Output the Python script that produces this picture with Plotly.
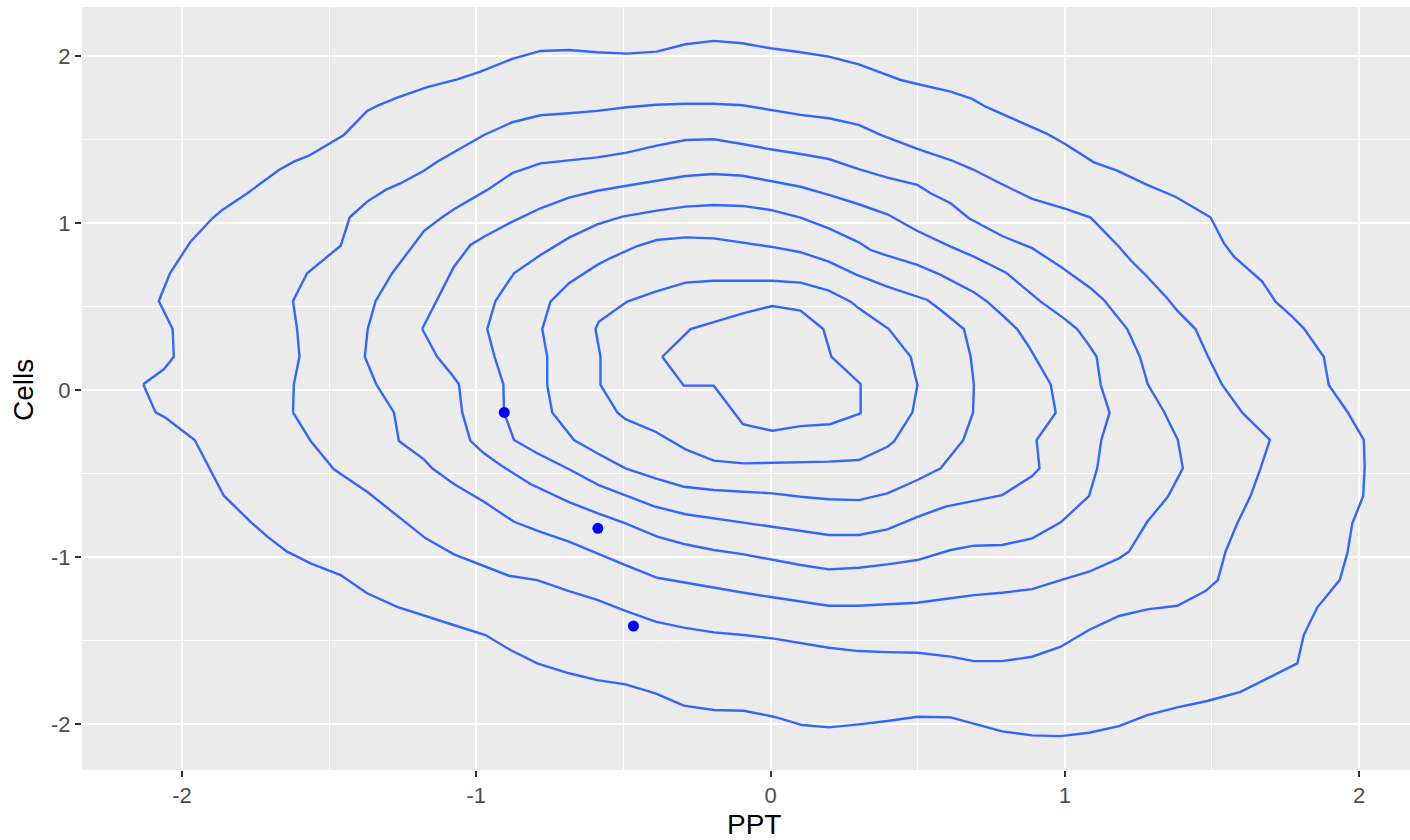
import plotly.graph_objects as go

# ---- data (PPT on x, Cells on y) ----
# Density contour levels, outermost (1) to innermost (8)
c1_ppt = [-2.132, -2.062, -2.028, -2.032, -2.079, -2.041, -1.971, -1.897, -1.863, -1.778, -1.671, -1.620,
          -1.569, -1.450, -1.371, -1.337, -1.269, -1.167, -1.065, -0.986, -0.878, -0.782, -0.685, -0.589,
          -0.489, -0.387, -0.289, -0.193, -0.096, 0.000, 0.102, 0.198, 0.300, 0.397, 0.442, 0.499, 0.612,
          0.685, 0.731, 0.838, 0.940, 0.997, 1.099, 1.178, 1.280, 1.376, 1.495, 1.541, 1.575, 1.671, 1.716,
          1.767, 1.812, 1.880, 1.897, 1.960, 2.016, 2.019, 2.014, 1.977, 1.960, 1.934, 1.858, 1.812, 1.790,
          1.597, 1.484, 1.382, 1.280, 1.184, 1.082, 0.986, 0.889, 0.787, 0.691, 0.612, 0.499, 0.397, 0.300,
          0.198, 0.108, 0.011, -0.091, -0.193, -0.295, -0.391, -0.493, -0.589, -0.685, -0.793, -0.884, -0.969,
          -1.088, -1.167, -1.269, -1.371, -1.461, -1.563, -1.643, -1.710, -1.767, -1.858, -1.957, -2.056, -2.090]
c1_cells = [0.034, 0.124, 0.199, 0.365, 0.533, 0.699, 0.888, 1.028, 1.078, 1.178, 1.317, 1.367,
            1.403, 1.527, 1.671, 1.701, 1.750, 1.813, 1.860, 1.906, 1.982, 2.030, 2.036, 2.022,
            2.014, 2.026, 2.070, 2.090, 2.076, 2.046, 2.022, 1.996, 1.950, 1.886, 1.856, 1.832, 1.786,
            1.743, 1.696, 1.613, 1.533, 1.477, 1.363, 1.313, 1.228, 1.157, 1.034, 0.878, 0.798, 0.649, 0.529,
            0.449, 0.369, 0.199, 0.030, -0.130, -0.299, -0.459, -0.635, -0.798, -0.978, -1.138, -1.301, -1.467, -1.637,
            -1.807, -1.862, -1.900, -1.946, -2.012, -2.052, -2.072, -2.068, -2.044, -1.996, -1.960, -1.956, -1.982, -2.002,
            -2.020, -2.006, -1.956, -1.920, -1.916, -1.890, -1.816, -1.762, -1.737, -1.696, -1.637, -1.557, -1.467,
            -1.401, -1.357, -1.298, -1.217, -1.108, -1.038, -0.968, -0.878, -0.789, -0.633, -0.299, -0.166, -0.134]

c2_ppt = [-1.623, -1.620, -1.601, -1.609, -1.623, -1.575, -1.461, -1.430, -1.371, -1.308, -1.257, -1.178,
          -1.133, -1.059, -0.974, -0.878, -0.782, -0.685, -0.589, -0.489, -0.387, -0.289, -0.193, -0.096,
          0.000, 0.102, 0.198, 0.300, 0.374, 0.397, 0.499, 0.612, 0.685, 0.787, 0.889, 1.003, 1.088, 1.184,
          1.223, 1.280, 1.348, 1.382, 1.444, 1.484, 1.535, 1.603, 1.648, 1.697, 1.665, 1.631, 1.586, 1.546,
          1.520, 1.478, 1.382, 1.280, 1.184, 1.082, 0.986, 0.889, 0.787, 0.691, 0.612, 0.499, 0.397, 0.300,
          0.198, 0.102, 0.006, -0.091, -0.193, -0.295, -0.391, -0.493, -0.589, -0.685, -0.793, -0.889, -0.986,
          -1.076, -1.172, -1.257, -1.371, -1.484, -1.563]
c2_cells = [-0.134, 0.034, 0.199, 0.365, 0.533, 0.699, 0.864, 1.034, 1.128, 1.198, 1.238, 1.313,
            1.367, 1.441, 1.527, 1.603, 1.645, 1.657, 1.671, 1.693, 1.708, 1.714, 1.714, 1.705,
            1.677, 1.647, 1.627, 1.587, 1.527, 1.511, 1.443, 1.377, 1.323, 1.232, 1.144, 1.084, 1.032, 0.858,
            0.778, 0.678, 0.549, 0.475, 0.365, 0.210, 0.030, -0.136, -0.214, -0.299, -0.469, -0.635, -0.798, -0.968,
            -1.138, -1.204, -1.292, -1.313, -1.353, -1.437, -1.537, -1.597, -1.623, -1.623, -1.596, -1.573, -1.569, -1.563,
            -1.543, -1.513, -1.487, -1.467, -1.451, -1.423, -1.387, -1.323, -1.257, -1.204, -1.138, -1.112, -1.044,
            -0.984, -0.888, -0.768, -0.609, -0.475, -0.305]

c3_ppt = [-1.340, -1.379, -1.369, -1.342, -1.286, -1.252, -1.218, -1.178, -1.121, -1.076, -0.963, -0.878,
          -0.782, -0.685, -0.589, -0.489, -0.387, -0.289, -0.193, -0.096, 0.000, 0.102, 0.198, 0.300, 0.397,
          0.499, 0.544, 0.612, 0.674, 0.787, 0.889, 0.986, 1.088, 1.133, 1.212, 1.255, 1.282, 1.337, 1.384,
          1.401, 1.350, 1.280, 1.218, 1.184, 1.082, 0.986, 0.889, 0.787, 0.691, 0.612, 0.499, 0.397, 0.300,
          0.198, 0.102, 0.006, -0.091, -0.193, -0.295, -0.385, -0.493, -0.589, -0.685, -0.782, -0.872, -0.974,
          -1.076, -1.150, -1.178, -1.263, -1.280]
c3_cells = [0.034, 0.199, 0.365, 0.533, 0.699, 0.778, 0.858, 0.952, 1.028, 1.082, 1.198, 1.298,
            1.357, 1.377, 1.393, 1.421, 1.463, 1.497, 1.501, 1.473, 1.441, 1.413, 1.383, 1.322, 1.271,
            1.228, 1.178, 1.118, 1.028, 0.922, 0.849, 0.738, 0.609, 0.539, 0.365, 0.199, 0.034, -0.130, -0.299,
            -0.469, -0.639, -0.789, -0.968, -1.008, -1.088, -1.138, -1.192, -1.214, -1.228, -1.247, -1.274, -1.283, -1.292,
            -1.292, -1.268, -1.241, -1.214, -1.184, -1.152, -1.124, -1.048, -0.978, -0.908, -0.849, -0.789, -0.669,
            -0.563, -0.469, -0.415, -0.305, -0.134]

c4_ppt = [-1.184, -1.110, -1.076, -1.020, -0.974, -0.884, -0.782, -0.685, -0.589, -0.489, -0.387, -0.289,
          -0.193, -0.096, 0.000, 0.102, 0.198, 0.300, 0.397, 0.499, 0.612, 0.691, 0.799, 0.918, 0.997, 1.042,
          1.082, 1.108, 1.122, 1.152, 1.124, 1.110, 1.082, 0.986, 0.889, 0.787, 0.691, 0.612, 0.499, 0.397,
          0.300, 0.198, 0.102, 0.006, -0.091, -0.193, -0.295, -0.385, -0.493, -0.589, -0.685, -0.816, -0.872,
          -0.918, -0.974, -1.020, -1.048, -1.059, -1.082, -1.133]
c4_cells = [0.365, 0.619, 0.738, 0.868, 0.918, 1.002, 1.088, 1.152, 1.193, 1.223, 1.251, 1.281,
            1.293, 1.283, 1.251, 1.217, 1.168, 1.112, 1.052, 0.952, 0.858, 0.798, 0.704, 0.529, 0.429, 0.365,
            0.269, 0.199, 0.030, -0.136, -0.299, -0.469, -0.635, -0.792, -0.888, -0.928, -0.932, -0.958, -1.018, -1.044,
            -1.064, -1.074, -1.048, -1.018, -0.984, -0.958, -0.922, -0.878, -0.798, -0.737, -0.671, -0.563, -0.499,
            -0.449, -0.379, -0.305, -0.134, 0.034, 0.090, 0.199]

c5_ppt = [-0.906, -0.908, -0.938, -0.963, -0.935, -0.872, -0.782, -0.685, -0.589, -0.504, -0.387, -0.289,
          -0.193, -0.096, 0.000, 0.102, 0.198, 0.300, 0.340, 0.397, 0.499, 0.578, 0.691, 0.736, 0.787, 0.838,
          0.878, 0.952, 0.969, 0.904, 0.914, 0.889, 0.787, 0.595, 0.499, 0.397, 0.300, 0.198, 0.006, -0.193,
          -0.289, -0.391, -0.493, -0.584, -0.680, -0.793, -0.872]
c5_cells = [-0.134, 0.034, 0.199, 0.365, 0.533, 0.699, 0.808, 0.912, 0.992, 1.038, 1.074, 1.098,
            1.108, 1.102, 1.078, 1.032, 0.968, 0.884, 0.838, 0.804, 0.749, 0.689, 0.585, 0.529, 0.449, 0.365,
            0.259, 0.034, -0.136, -0.299, -0.469, -0.515, -0.629, -0.698, -0.759, -0.834, -0.868, -0.868, -0.819, -0.768,
            -0.744, -0.699, -0.629, -0.569, -0.479, -0.379, -0.299]

c6_ppt = [-0.759, -0.759, -0.776, -0.748, -0.685, -0.589, -0.544, -0.453, -0.387, -0.289, -0.193, -0.096,
          0.000, 0.102, 0.198, 0.289, 0.397, 0.533, 0.578, 0.657, 0.680, 0.691, 0.688, 0.655, 0.578, 0.499,
          0.397, 0.300, 0.198, 0.102, 0.006, -0.091, -0.193, -0.295, -0.391, -0.493, -0.589, -0.668, -0.742]
c6_cells = [0.030, 0.199, 0.365, 0.529, 0.639, 0.749, 0.790, 0.862, 0.898, 0.914, 0.908, 0.882,
            0.858, 0.825, 0.768, 0.692, 0.619, 0.539, 0.479, 0.365, 0.199, 0.030, -0.136, -0.299, -0.469, -0.539,
            -0.619, -0.659, -0.654, -0.639, -0.619, -0.609, -0.599, -0.579, -0.529, -0.469, -0.379, -0.299, -0.134]

c7_ppt = [-0.578, -0.578, -0.595, -0.584, -0.487, -0.391, -0.289, -0.193, 0.006, 0.102, 0.198, 0.272,
          0.300, 0.402, 0.476, 0.499, 0.482, 0.419, 0.397, 0.300, 0.198, 0.006, -0.091, -0.193, -0.289,
          -0.391, -0.493, -0.521]
c7_cells = [0.030, 0.199, 0.365, 0.409, 0.529, 0.589, 0.643, 0.654, 0.654, 0.643, 0.595, 0.529,
            0.489, 0.365, 0.199, 0.030, -0.134, -0.310, -0.340, -0.419, -0.429, -0.435, -0.439, -0.423, -0.355,
            -0.250, -0.175, -0.134]

c8_ppt = [-0.368, -0.272, -0.094, 0.006, 0.102, 0.179, 0.207, 0.306, 0.306, 0.202, 0.102, 0.006,
          -0.094, -0.193, -0.295]
c8_cells = [0.199, 0.365, 0.459, 0.503, 0.475, 0.365, 0.199, 0.036, -0.140, -0.205, -0.216, -0.244,
            -0.205, 0.026, 0.026]

# Observed points
point_ppt = [-0.905, -0.587, -0.466]
point_cells = [-0.134, -0.828, -1.413]

# Axis ticks
tick_vals = [-2, -1, 0, 1, 2]
tick_text = ["-2", "-1", "0", "1", "2"]

contours = [(c1_ppt, c1_cells), (c2_ppt, c2_cells), (c3_ppt, c3_cells), (c4_ppt, c4_cells),
            (c5_ppt, c5_cells), (c6_ppt, c6_cells), (c7_ppt, c7_cells), (c8_ppt, c8_cells)]

fig = go.Figure()
for xs, ys in contours:
    fig.add_trace(go.Scatter(
        x=xs + xs[:1], y=ys + ys[:1], mode="lines",
        line=dict(color="#3366FF", width=2.4),
        showlegend=False, hoverinfo="skip"))

fig.add_trace(go.Scatter(
    x=point_ppt, y=point_cells, mode="markers",
    marker=dict(color="#0000FF", size=11, line=dict(width=0)),
    showlegend=False))

font_family = "Liberation Sans, Arial, Helvetica, sans-serif"
axis_common = dict(
    tickvals=tick_vals, ticktext=tick_text,
    showgrid=True, gridcolor="white", gridwidth=2.4,
    minor=dict(dtick=0.5, showgrid=True, gridcolor="white", gridwidth=1.2),
    zeroline=False, showline=False,
    ticks="outside", ticklen=6, tickwidth=2, tickcolor="#333333",
    tickfont=dict(family=font_family, size=22, color="#4D4D4D"),
)

fig.update_layout(
    width=1410, height=840,
    margin=dict(l=82, r=0, t=7, b=70, autoexpand=False),
    paper_bgcolor="white", plot_bgcolor="#EBEBEB",
    xaxis=dict(range=[-2.340, 2.173], **axis_common),
    yaxis=dict(range=[-2.275, 2.293], **axis_common),
    font=dict(family=font_family),
    annotations=[
        dict(text="PPT", xref="x", yref="paper", x=-0.057, y=0, yanchor="top", xanchor="center",
             yshift=-37, showarrow=False, font=dict(family=font_family, size=28, color="black")),
        dict(text="Cells", xref="paper", yref="y", x=0, y=0, xanchor="center", yanchor="middle",
             xshift=-59, textangle=-90, showarrow=False,
             font=dict(family=font_family, size=28, color="black")),
    ],
)

fig.write_html("out.html", config={"displayModeBar": False},
               post_script="document.body.style.margin='0px';")
